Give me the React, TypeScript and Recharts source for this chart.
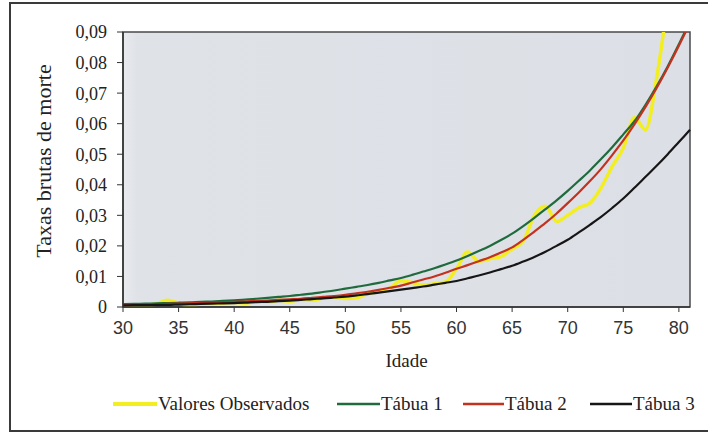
import React from 'react';
import {
  LineChart, Line, XAxis, YAxis, CartesianGrid, Legend, ReferenceArea,
} from 'recharts';

// ages 30..81 (yearly)
const ages = [
  30, 31, 32, 33, 34, 35, 36, 37, 38, 39, 40, 41, 42, 43, 44, 45, 46, 47, 48, 49,
  50, 51, 52, 53, 54, 55, 56, 57, 58, 59, 60, 61, 62, 63, 64, 65, 66, 67, 68, 69,
  70, 71, 72, 73, 74, 75, 76, 77, 78, 79, 80, 81,
];

const observados = [
  0.0008, 0.0005, 0.0006, 0.0010, 0.0022, 0.0012, 0.0004, 0.0009, 0.0011, 0.0013,
  0.0015, 0.0012, 0.0018, 0.0016, 0.0022, 0.0019, 0.0024, 0.0022, 0.0030, 0.0033,
  0.0028, 0.0030, 0.0045, 0.0050, 0.0062, 0.0086, 0.0080, 0.0072, 0.0076, 0.0082,
  0.0125, 0.0180, 0.0150, 0.0158, 0.0165, 0.0190, 0.0215, 0.0300, 0.0330, 0.0280,
  0.0300, 0.0325, 0.0340, 0.0390, 0.0460, 0.0520, 0.0620, 0.0580, 0.0750, 0.1000,
  null, null,
];

const tabua1 = [
  0.0009, 0.0010, 0.0011, 0.0012, 0.0013, 0.0014, 0.0015, 0.0017, 0.0018, 0.0020,
  0.0022, 0.0024, 0.0027, 0.0030, 0.0033, 0.0036, 0.0040, 0.0044, 0.0049, 0.0054,
  0.0060, 0.0066, 0.0072, 0.0079, 0.0087, 0.0095, 0.0105, 0.0116, 0.0127, 0.0139,
  0.0152, 0.0167, 0.0183, 0.0200, 0.0219, 0.0240, 0.0265, 0.0292, 0.0320, 0.0349,
  0.0380, 0.0413, 0.0447, 0.0484, 0.0523, 0.0565, 0.0608, 0.0662, 0.0722, 0.0788,
  0.0860, 0.0935,
];

const tabua2 = [
  0.0007, 0.0008, 0.0008, 0.0009, 0.0010, 0.0011, 0.0012, 0.0013, 0.0014, 0.0015,
  0.0017, 0.0018, 0.0020, 0.0021, 0.0023, 0.0025, 0.0027, 0.0030, 0.0033, 0.0036,
  0.0040, 0.0045, 0.0050, 0.0056, 0.0063, 0.0070, 0.0080, 0.0090, 0.0100, 0.0112,
  0.0125, 0.0137, 0.0150, 0.0163, 0.0178, 0.0195, 0.0220, 0.0247, 0.0275, 0.0306,
  0.0340, 0.0375, 0.0412, 0.0452, 0.0497, 0.0545, 0.0598, 0.0655, 0.0717, 0.0784,
  0.0855, 0.0930,
];

const tabua3 = [
  0.0005, 0.0006, 0.0006, 0.0007, 0.0007, 0.0008, 0.0009, 0.0010, 0.0011, 0.0012,
  0.0013, 0.0014, 0.0016, 0.0017, 0.0019, 0.0021, 0.0023, 0.0026, 0.0028, 0.0031,
  0.0034, 0.0038, 0.0042, 0.0047, 0.0052, 0.0057, 0.0062, 0.0067, 0.0073, 0.0079,
  0.0085, 0.0094, 0.0103, 0.0113, 0.0124, 0.0135, 0.0149, 0.0164, 0.0181, 0.0200,
  0.0220, 0.0244, 0.0269, 0.0295, 0.0324, 0.0355, 0.0390, 0.0426, 0.0462, 0.0500,
  0.0540, 0.0580,
];

const xTicks = [30, 35, 40, 45, 50, 55, 60, 65, 70, 75, 80];
const yTicks = [0, 0.01, 0.02, 0.03, 0.04, 0.05, 0.06, 0.07, 0.08, 0.09];

const SERIES = [
  { key: 'obs', name: 'Valores Observados', color: '#f3ee22', width: 3.5 },
  { key: 't1', name: 'Tábua 1', color: '#1f6b3e', width: 2.2 },
  { key: 't2', name: 'Tábua 2', color: '#c2321f', width: 2.2 },
  { key: 't3', name: 'Tábua 3', color: '#161616', width: 2.2 },
];

const data = ages.map((a, i) => ({
  age: a,
  obs: observados[i],
  t1: tabua1[i],
  t2: tabua2[i],
  t3: tabua3[i],
}));

const serif = '"Liberation Serif", "DejaVu Serif", serif';
const sans = '"Liberation Sans", Arial, sans-serif';

function fmtY(v: number) {
  if (v === 0) return '0';
  return v.toFixed(2).replace('.', ',');
}

function LegendContent() {
  const items = [
    { ...SERIES[0], x: 113, w: 44 },
    { ...SERIES[1], x: 337, w: 43 },
    { ...SERIES[2], x: 463, w: 41 },
    { ...SERIES[3], x: 590, w: 42 },
  ];
  return (
    <svg width={708} height={30} style={{ display: 'block' }}>
      {items.map((it) => (
        <g key={it.key}>
          <line x1={it.x} x2={it.x + it.w} y1={14} y2={14} stroke={it.color} strokeWidth={it.key === 'obs' ? 4 : 2.5} />
          <text x={it.x + it.w + 1} y={20} fontFamily={serif} fontSize={19} fill="#222">{it.name}</text>
        </g>
      ))}
    </svg>
  );
}

export default function App() {
  return (
    <div style={{ position: 'relative', width: 708, height: 432, background: '#fff', overflow: 'hidden' }}>
      <style>{'body{margin:0}'}</style>
      <div style={{
        position: 'absolute', left: 9, top: 2, width: 710, height: 426,
        borderLeft: '2px solid #3a3a3a', borderTop: '2px solid #3a3a3a', borderBottom: '2px solid #3a3a3a',
      }} />
      <div style={{ position: 'absolute', left: 0, top: 0 }}>
        <LineChart width={708} height={432} data={data} margin={{ top: 32, right: 18, left: 0, bottom: 55 }}>
          <defs>
            <linearGradient id="plotBg" x1="0" y1="0" x2="1" y2="0">
              <stop offset="0" stopColor="#e8eaee" />
              <stop offset="0.025" stopColor="#dfe2e7" />
              <stop offset="1" stopColor="#dcdfe5" />
            </linearGradient>
          </defs>
          <CartesianGrid horizontal={false} vertical={false} fill="url(#plotBg)" />
          <ReferenceArea x1={30} x2={81} y1={0} y2={0.09} fill="none" stroke="#4a4a4a" strokeWidth={1.5} ifOverflow="extendDomain" />
          <XAxis
            dataKey="age"
            type="number"
            domain={[30, 81]}
            ticks={xTicks}
            interval={0}
            height={40}
            axisLine={{ stroke: '#333', strokeWidth: 1.5 }}
            tickLine={{ stroke: '#333' }}
            tickSize={5}
            tickMargin={9}
            tick={{ fill: '#333', fontSize: 18, fontFamily: sans }}
            label={{ value: 'Idade', position: 'insideBottom', offset: -20, fill: '#222', fontSize: 19, fontFamily: serif }}
          />
          <YAxis
            type="number"
            domain={[0, 0.09]}
            ticks={yTicks}
            interval={0}
            allowDataOverflow
            width={123}
            tickFormatter={fmtY}
            axisLine={{ stroke: '#333', strokeWidth: 1.5 }}
            tickLine={{ stroke: '#333' }}
            tickSize={6}
            tickMargin={10}
            tick={{ fill: '#222', fontSize: 18, fontFamily: serif }}
            label={{
              content: () => (
                <text x={43} y={161} transform="rotate(-90 43 161)" textAnchor="middle" dominantBaseline="central"
                  fontFamily={serif} fontSize={22} fill="#222">
                  Taxas brutas de morte
                </text>
              ),
            }}
          />
          {SERIES.map((s) => (
            <Line
              key={s.key}
              type="monotone"
              dataKey={s.key}
              name={s.name}
              stroke={s.color}
              strokeWidth={s.width}
              dot={false}
              activeDot={false}
              connectNulls={false}
              isAnimationActive={false}
            />
          ))}
          <Legend verticalAlign="bottom" height={30} content={() => <LegendContent />} wrapperStyle={{ left: 0, top: 390, width: 708 }} />
        </LineChart>
      </div>
    </div>
  );
}
